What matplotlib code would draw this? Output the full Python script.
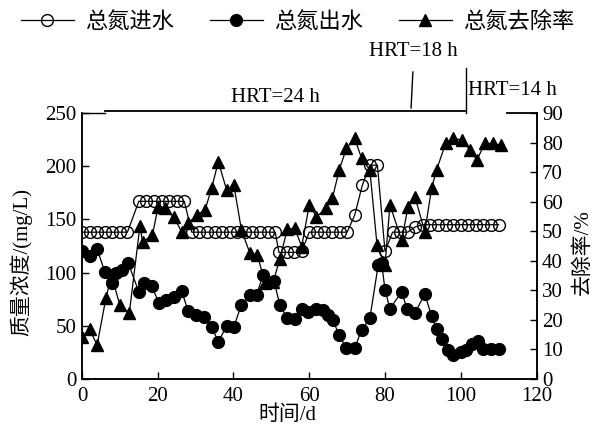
import numpy as np
import matplotlib
matplotlib.use('Agg')
import matplotlib.pyplot as plt
from matplotlib.lines import Line2D

plt.rcParams['font.family'] = ['Liberation Serif', 'Noto Sans CJK SC']
plt.rcParams['axes.unicode_minus'] = False

# influent TN (open circles)
day_in = [0, 2, 4, 6, 8, 10, 12, 15, 17, 19, 21, 23, 25, 27,
          29, 31, 33, 35, 37, 39, 41, 43, 45, 47, 49, 51,
          52, 54, 56, 58, 60, 62, 64, 66, 68, 70, 72, 74, 76, 78,
          80, 82, 84, 86, 88, 90, 92, 94, 96, 98, 100, 102, 104, 106, 108, 110]
tn_in = [138, 138, 138, 138, 138, 138, 138, 167, 167, 167, 167, 167, 167, 167,
         138, 138, 138, 138, 138, 138, 138, 138, 138, 138, 138, 138,
         119, 119, 119, 120, 138, 138, 138, 138, 138, 138, 154, 182, 201, 201,
         120, 138, 138, 138, 143, 145, 145, 145, 145, 145, 145, 145, 145, 145, 145, 145]

# effluent TN (filled circles)
day_out = [0, 2, 4, 6, 8, 9, 10.5, 12.2, 15, 16.4, 18.4, 20.4, 22.3, 24.3, 26.3,
           28, 30, 32.2, 34.2, 36, 38.2, 40.1, 42.1, 44.3, 46.1, 47.8, 50.7,
           52.2, 54.2, 56.2, 58, 59.7, 61.9, 63.7, 65, 66.3, 67.9, 69.8, 72,
           73.8, 76, 78.2, 79.1, 80, 81.3, 84.4, 85.8, 87.9, 90.5, 92.3, 93.6,
           95, 96.5, 98, 100, 101.5, 103, 104.5, 106, 108, 110]
tn_out = [120, 116, 122, 101, 90, 100, 102, 109, 82, 90, 87, 71, 74, 77, 83,
          64, 60, 58, 49, 35, 50, 49, 70, 79, 79, 98, 92,
          70, 57, 56, 66, 63, 66, 65, 60, 55, 41, 29, 29,
          46, 57, 107, 109, 84, 66, 82, 66, 62, 80, 59, 47,
          38, 27, 23, 25, 27, 33, 36, 28, 28, 28]

# TN removal rate (triangles, right axis)
day_rm = [0, 2, 4, 6.3, 7.8, 10, 12.5, 15.3, 16, 18.6, 20.1, 21.9, 24.3, 26.3,
          28, 30.3, 32.5, 34.2, 36, 38.2, 40.1, 42.1, 44.3, 46.3, 48.3, 50.5,
          52.2, 54.2, 56.2, 58, 60, 61.9, 64.4, 66.1, 67.9, 69.8, 72, 73.8, 76,
          77.9, 80, 81.3, 84.4, 86.1, 87.9, 90.5, 92.3, 93.6, 96, 98, 100.2,
          102.4, 104.3, 106.3, 108.4, 110.5]
rm = [14.3, 16.8, 11.5, 27.3, 35, 25, 22.4, 51.8, 46.4, 48.7, 58.3, 57.7, 54.7, 49.8,
      52.7, 55.5, 57.2, 64.5, 73.5, 63.9, 65.6, 50.4, 42.7, 42, 32.6, 32.9,
      40.5, 50.6, 51, 44.8, 58.9, 54.9, 57.7, 61.1, 70.7, 78, 81.4, 74.7, 70.7,
      45.3, 38.6, 58.9, 47, 58.3, 61.7, 49.8, 64.5, 70.7, 79.7, 81.4, 80.9,
      77.5, 74.1, 79.7, 79.7, 79.2]

fig = plt.figure(figsize=(5.95, 4.33), dpi=100)
ax = fig.add_axes([0.1378, 0.1247, 0.7639, 0.6143])
ax2 = ax.twinx()

ms = 8.5
lw = 0.9
ax.plot(day_in, tn_in, '-', color='black', lw=lw, marker='o', ms=ms,
        mfc='none', mec='black', mew=1.0, label='总氮进水')
ax.plot(day_out, tn_out, '-', color='black', lw=lw, marker='o', ms=ms,
        mfc='black', mec='black', label='总氮出水')
ax2.plot(day_rm, rm, '-', color='black', lw=lw, marker='^', ms=ms,
         mfc='black', mec='black', label='总氮去除率')

ax.set_xlim(0, 120)
ax.set_ylim(0, 250)
ax2.set_ylim(0, 90)
ax.set_xticks(np.arange(0, 121, 20))
ax.set_yticks(np.arange(0, 251, 50))
ax2.set_yticks(np.arange(0, 91, 10))

for a in (ax, ax2):
    a.tick_params(direction='in', length=5, width=1, labelsize=15, pad=4)
    a.spines['top'].set_visible(False)
    for s in ('left', 'right', 'bottom'):
        a.spines[s].set_linewidth(1.1)
ax.tick_params(axis='x', pad=6)

# top spine with the HRT markers
kw = dict(transform=ax.transAxes, color='black', clip_on=False)
ax.add_line(Line2D([0, 0.05], [1, 1], lw=1.0, **kw))
ax.add_line(Line2D([0.05, 0.843], [1.006, 1.006], lw=1.3, **kw))
ax.add_line(Line2D([0.935, 1], [1, 1], lw=1.3, **kw))
ax.add_line(Line2D([0.728, 0.724], [1.154, 1.019], lw=1.0, **kw))
ax.add_line(Line2D([0.845, 0.845], [1.169, 1.0], lw=1.0, **kw))
ax.text(0.425, 1.06, 'HRT=24 h', transform=ax.transAxes, fontsize=15,
        ha='center', va='center')
ax.text(0.728, 1.233, 'HRT=18 h', transform=ax.transAxes, fontsize=15,
        ha='center', va='center')
ax.text(0.85, 1.086, 'HRT=14 h', transform=ax.transAxes, fontsize=15,
        ha='left', va='center')

ax.set_xlabel('时间/d', fontsize=15)
ax.xaxis.set_label_coords(0.451, -0.1)
ax.set_ylabel('质量浓度/(mg/L)', fontsize=15)
ax.yaxis.set_label_coords(-0.11, 0.44)
ax2.set_ylabel('去除率/%', fontsize=15)
ax2.yaxis.set_label_coords(1.08, 0.477)

h1, l1 = ax.get_legend_handles_labels()
h2, l2 = ax2.get_legend_handles_labels()
fig.legend(h1 + h2, l1 + l2, loc='center', bbox_to_anchor=(0.5, 0.948),
           ncol=3, frameon=False, fontsize=16, handlelength=2.4,
           handletextpad=0.5, columnspacing=1.6, borderaxespad=0)

fig.savefig('out.png', dpi=100)
